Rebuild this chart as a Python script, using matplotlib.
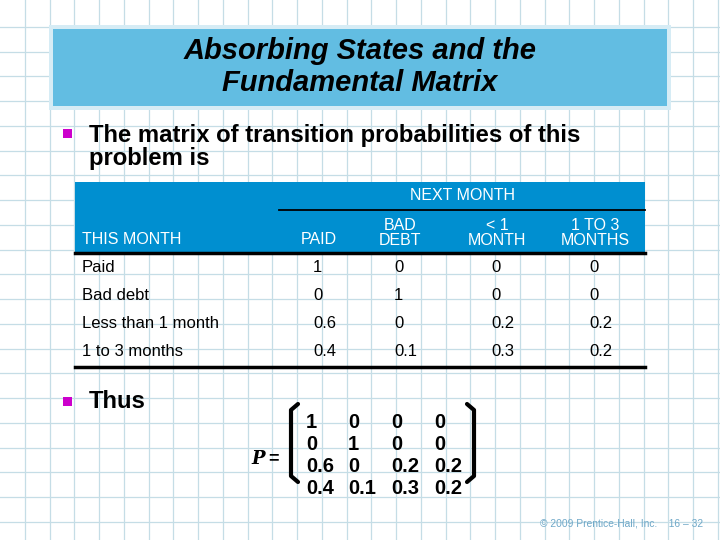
import matplotlib.pyplot as plt
from matplotlib.patches import Rectangle

plt.rcParams['font.family'] = ['Liberation Sans', 'DejaVu Sans']

# table data
row_labels = ["Paid", "Bad debt", "Less than 1 month", "1 to 3 months"]
col_labels = ["PAID", "BAD\nDEBT", "< 1\nMONTH", "1 TO 3\nMONTHS"]
P = [["1", "0", "0", "0"],
     ["0", "1", "0", "0"],
     ["0.6", "0", "0.2", "0.2"],
     ["0.4", "0.1", "0.3", "0.2"]]

fig = plt.figure(figsize=(7.2, 5.4), dpi=100)
ax = fig.add_axes([0, 0, 1, 1])
ax.set_xlim(0, 720)
ax.set_ylim(540, 0)
ax.axis("off")

# graph paper background
gx = 24.75
for i in range(1, 30):
    ax.axvline(i * gx, color="#c5dde6", lw=0.9, zorder=0)
for i in range(1, 23):
    ax.axhline(i * gx + 2, color="#c5dde6", lw=0.9, zorder=0)

# title box
ax.add_patch(Rectangle((49, 25), 622, 85, fc="#d6ecf5", ec="none", zorder=1))
ax.add_patch(Rectangle((53, 29), 614, 77, fc="#62bde2", ec="none", zorder=1))
ax.text(360, 67, "Absorbing States and the\nFundamental Matrix", ha="center", va="center",
        fontsize=21, style="italic", fontweight="bold", linespacing=1.2, zorder=2)

# bullets
ax.add_patch(Rectangle((63, 129), 9, 9, fc="#cc00cc", ec="none", zorder=2))
ax.text(89, 147, "The matrix of transition probabilities of this\nproblem is",
        fontsize=17.2, fontweight="bold", va="center", linespacing=1.05, zorder=2)
ax.add_patch(Rectangle((63, 397), 9, 9, fc="#cc00cc", ec="none", zorder=2))
ax.text(89, 402, "Thus", fontsize=17.2, fontweight="bold", va="center", zorder=2)

# table header
ax.add_patch(Rectangle((75, 182), 570, 70, fc="#008fd0", ec="none", zorder=1))
ax.text(462, 196, "NEXT MONTH", color="white", ha="center", va="center", fontsize=11.5, zorder=2)
ax.plot([279, 645], [210, 210], color="black", lw=1.3, zorder=2)
ax.text(82, 240, "THIS MONTH", color="white", va="center", fontsize=11.5, zorder=2)
col_x = [319, 400, 497, 595]
for x, lab in zip(col_x, col_labels):
    ax.text(x, 240 if "\n" not in lab else 233, lab, color="white", ha="center", va="center",
            fontsize=11.5, linespacing=1.0, zorder=2)
ax.plot([75, 645], [253, 253], color="black", lw=2.5, zorder=2)
ax.plot([75, 645], [367, 367], color="black", lw=2.5, zorder=2)
row_y = [267, 295, 323, 352]
for y, lab, vals in zip(row_y, row_labels, P):
    ax.text(82, y, lab, va="center", fontsize=12, zorder=2)
    for x, v in zip(col_x, vals):
        ax.text(x - 6, y, v, va="center", fontsize=12, zorder=2)

# matrix
ax.text(251, 459, "P", fontsize=13, fontweight="bold", style="italic", family="DejaVu Serif",
        va="center", zorder=2)
ax.text(268, 459, "=", fontsize=13, fontweight="bold", va="center", zorder=2)
# brackets
ax.plot([298, 291, 291, 298], [404, 410, 476, 482], color="black", lw=3,
        solid_capstyle="round", solid_joinstyle="round", zorder=2)
ax.plot([467, 474, 474, 467], [404, 410, 476, 482], color="black", lw=3,
        solid_capstyle="round", solid_joinstyle="round", zorder=2)
mx = [306, 348, 391, 434]
my = [421, 443, 466, 488]
for y, vals in zip(my, P):
    for x, v in zip(mx, vals):
        ax.text(x, y + 1, v, fontsize=14.5, fontweight="bold", va="center", zorder=2)

ax.text(540, 524, "© 2009 Prentice-Hall, Inc.    16 – 32", fontsize=7.4, color="#6fa8c8",
        va="center", zorder=2)

fig.savefig("out.png", dpi=100)
